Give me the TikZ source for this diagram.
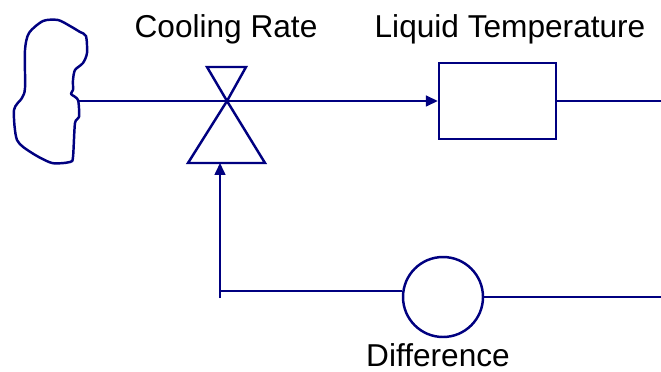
\documentclass[tikz,border=0pt]{standalone}
\usepackage{fontspec}
\setmainfont{Liberation Sans}
\usetikzlibrary{arrows.meta,positioning,calc}

\definecolor{flownavy}{RGB}{0,0,128}

\begin{document}
\begin{tikzpicture}[
    x=0.02cm, y=-0.02cm,
    >={Triangle[length=0.24cm, width=0.22cm]},
    font=\fontsize{18}{20}\selectfont,
    pipe/.style={draw=flownavy, line width=0.9pt},
    shapeline/.style={draw=flownavy, line width=1.4pt, line join=miter},
    stockbox/.style={shapeline, rectangle, minimum width=2.34cm, minimum height=1.52cm, inner sep=0pt},
    auxcircle/.style={shapeline, circle, minimum size=1.6cm, inner sep=0pt},
    varlabel/.style={anchor=base, inner sep=0pt}
]

% -------------------------------------------------
% FRAME
% -------------------------------------------------
\useasboundingbox (0,0) rectangle (661,371);

% -------------------------------------------------
% SOURCE CLOUD
% -------------------------------------------------
\draw[shapeline, line join=round]
    plot[smooth cycle, tension=0.45] coordinates {
        (43,21) (58,20) (70,26) (80,32) (86,36) (87,53) (83,63)
        (75,70) (73,80) (73,90) (71,94) (78,100) (79,117) (75,123)
        (73,157) (70,162) (52,163) (32,153) (17,140) (14,110)
        (22,98) (25,88) (25,50) (29,33)
    };
\coordinate (cloudR) at (79,101);

% -------------------------------------------------
% VALVE
% -------------------------------------------------
\coordinate (valve) at (227,101);
\coordinate (valveB) at (227,163);
\draw[shapeline] (valve) -- (207,67) -- (246,67) -- cycle;
\draw[shapeline] (valve) -- (188,163) -- (265,163) -- cycle;

% -------------------------------------------------
% STOCK AND AUXILIARY
% -------------------------------------------------
\node[stockbox] (liq) at (497.5,101) {};
\node[auxcircle] (diff) at (443,297) {};

% labels
\node[varlabel] (lblRate) at (226,38) {Cooling Rate};
\node[varlabel] (lblLiq) at (510,38) {Liquid Temperature};
\node[varlabel] (lblDiff) at (438,366) {Difference};

% -------------------------------------------------
% CONNECTORS
% -------------------------------------------------
% flow into the stock
\draw[pipe, ->] (cloudR) -- (liq.west);
\draw[pipe] (liq.east) -- ++(105,0);

% feedback from difference to the valve
\coordinate (corner) at (220,291);
\draw[pipe] (diff.east) -- ++(178,0);
\draw[pipe] (corner -| diff.west) -- (corner);
\draw[pipe, ->] ($(corner)+(0,7)$) -- (corner |- valveB);

\end{tikzpicture}
\end{document}
